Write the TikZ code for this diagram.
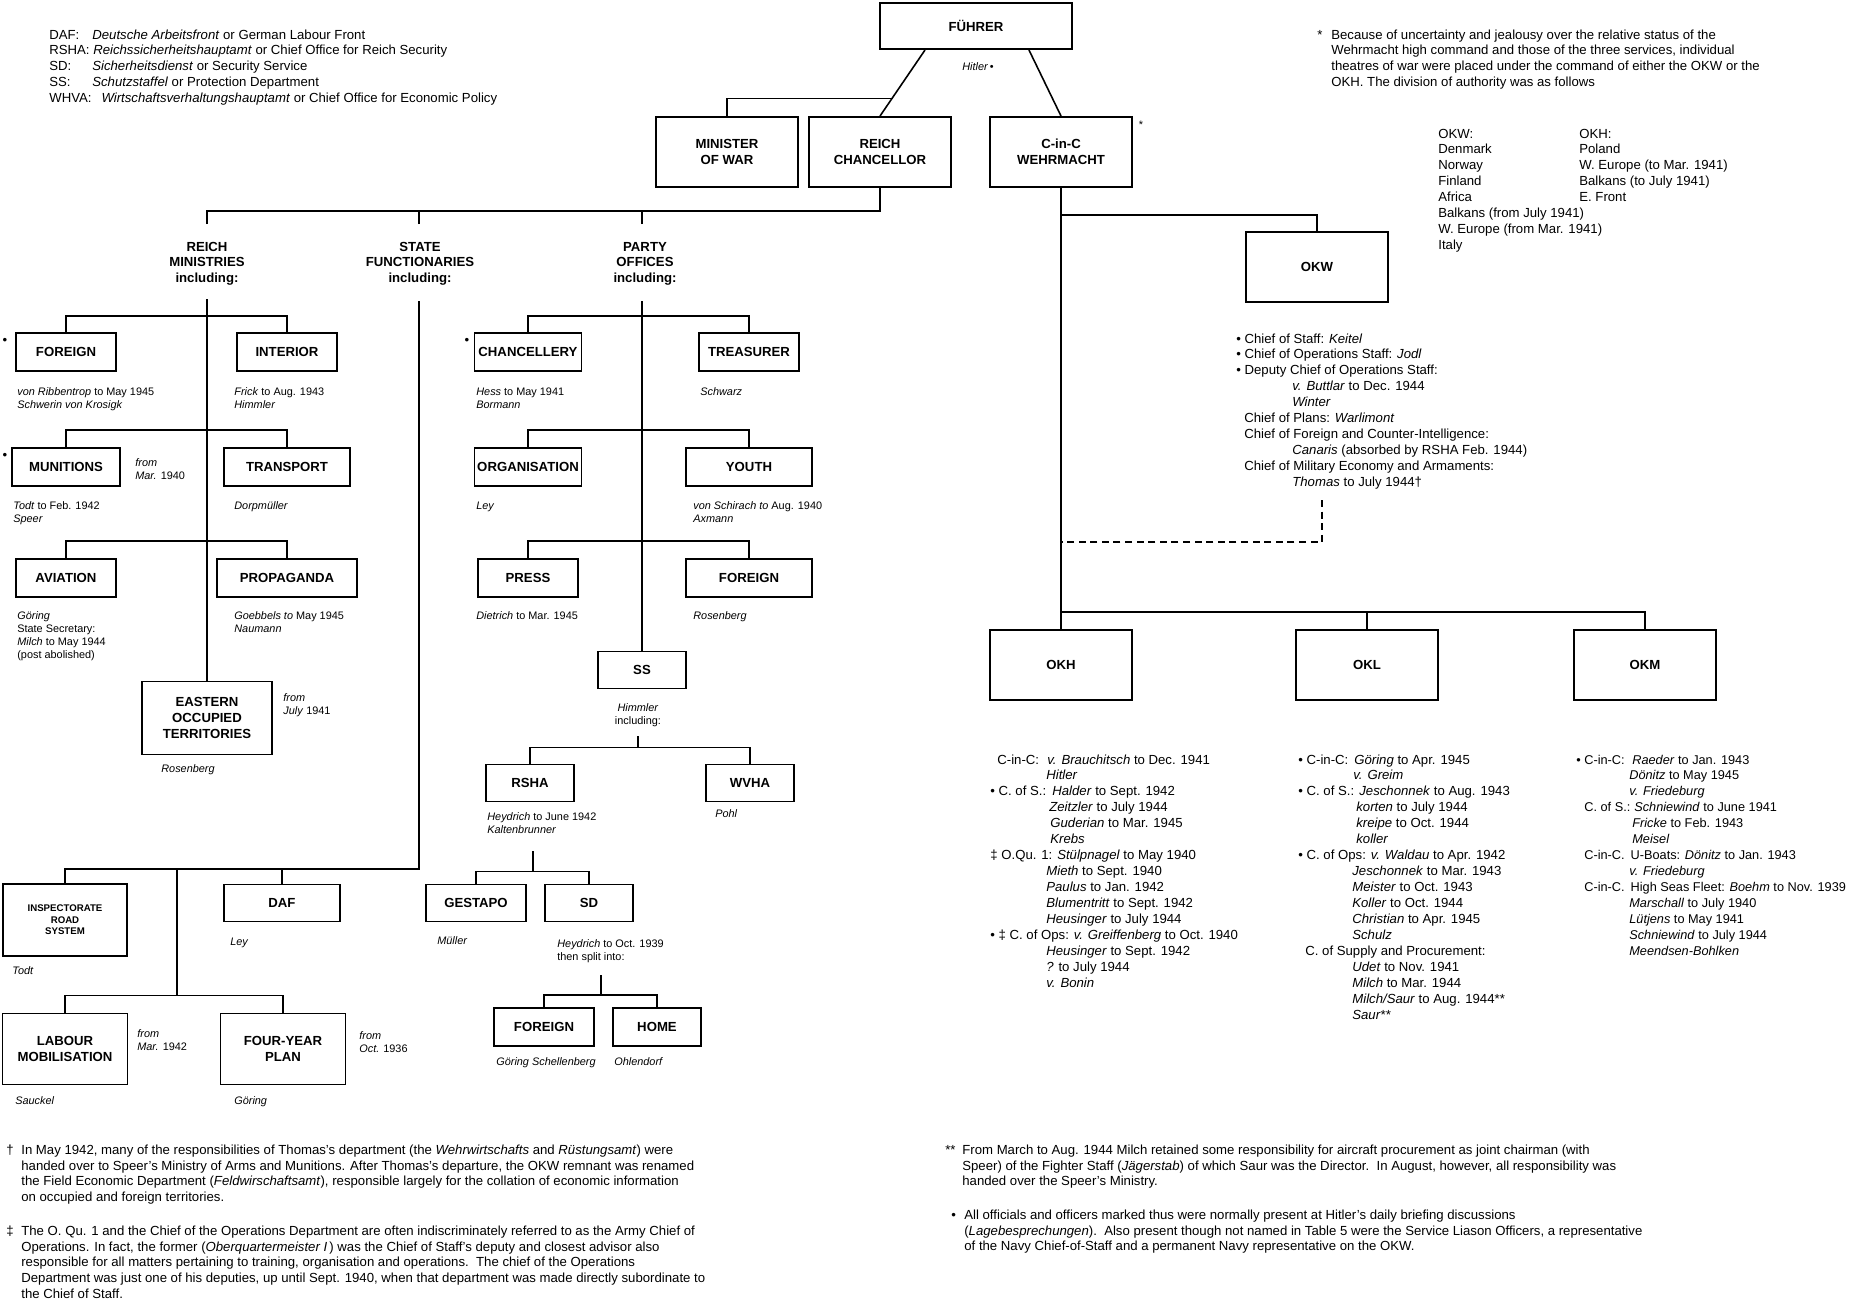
\documentclass[tikz,border=0pt]{standalone}
\usepackage{fontspec}
\setmainfont{Liberation Sans}
\usetikzlibrary{calc}
\newcommand\boxfont{\fontsize{7.5}{9.1}\selectfont\bfseries}
\newcommand\smallboxfont{\fontsize{5.5}{6.6}\selectfont\bfseries}
\newcommand\infofont{\fontsize{7.5}{9.1}\selectfont}
\newcommand\navyfont{\fontsize{7.25}{9.1}\selectfont}
\newcommand\notefont{\fontsize{6.2}{7.4}\selectfont}
\newcommand\leftlines[1]{\begin{tabular}[t]{@{}l@{}}#1\end{tabular}}
\newcommand\midlines[1]{\begin{tabular}[t]{@{}c@{}}#1\end{tabular}}

\begin{document}
\begin{tikzpicture}[
    x=0.02cm, y=-0.02cm,
    box/.style={draw, line width=1.1pt, inner sep=0pt, align=center, font=\boxfont},
    head/.style={anchor=base, inner sep=0pt, font=\boxfont},
    info/.style={anchor=base west, inner sep=0pt, font=\infofont},
    note/.style={anchor=base west, inner sep=0pt, font=\notefont},
    link/.style={line width=0.9pt}
]
    \path[use as bounding box, fill=white] (0,0) rectangle (1853,1302);

    % --- Top: Fuehrer and the three offices below ---
    \node[box, minimum width=3.84cm, minimum height=0.92cm] (fuhrer) at (976,26) {FÜHRER};
    \node[note, anchor=center] (hitnote) at (978,67) {\textit{Hitler}\,\textbullet};
    \node[box, minimum width=2.84cm, minimum height=1.4cm] (minwar) at (727,152) {MINISTER\\OF WAR};
    \node[box, minimum width=2.84cm, minimum height=1.4cm] (reichch) at (880,152) {REICH\\CHANCELLOR};
    \node[box, minimum width=2.84cm, minimum height=1.4cm] (cinc) at (1061,152) {C-in-C\\WEHRMACHT};
    \node[note, anchor=center] (cincstar) at (1141,125) {*};

    \coordinate (fl) at ([xshift=0.92cm]fuhrer.south west);
    \coordinate (fr) at ([xshift=-0.88cm]fuhrer.south east);
    \coordinate (mj) at ($(fl)!0.735!(reichch.north)$);
    \draw[link] (fl) -- (reichch.north);
    \draw[link] (fr) -- (cinc.north);
    \draw[link] (minwar.north) |- (mj);

    % --- Legend and note on theatres of war ---
    \node[info] (legend) at (49,39) {\leftlines{\makebox[0.86cm][l]{DAF:}\textit{Deutsche Arbeitsfront} or German Labour Front\\
        RSHA: \textit{Reichssicherheitshauptamt} or Chief Office for Reich Security\\
        \makebox[0.86cm][l]{SD:}\textit{Sicherheitsdienst} or Security Service\\
        \makebox[0.86cm][l]{SS:}\textit{Schutzstaffel} or Protection Department\\
        WHVA:\hspace{0.2cm}\textit{Wirtschaftsverhaltungshauptamt} or Chief Office for Economic Policy}};
    \node[info] (starmark) at (1317,39) {*};
    \node[info] (starnote) at (1331,39) {\leftlines{Because of uncertainty and jealousy over the relative status of the\\
        Wehrmacht high command and those of the three services, individual\\
        theatres of war were placed under the command of either the OKW or the\\
        OKH. The division of authority was as follows}};
    \node[info] (okwlist) at (1438,138) {\leftlines{OKW:\\Denmark\\Norway\\Finland\\Africa\\Balkans (from July 1941)\\W. Europe (from Mar. 1941)\\Italy}};
    \node[info] (okhlist) at (1579,138) {\leftlines{OKH:\\Poland\\W. Europe (to Mar. 1941)\\Balkans (to July 1941)\\E. Front}};

    % --- Second level: the three groups under the Reich Chancellor ---
    \node[head] (rmhead) at (207,251) {\midlines{REICH\\MINISTRIES\\including:}};
    \node[head] (sfhead) at (420,251) {\midlines{STATE\\FUNCTIONARIES\\including:}};
    \node[head] (pohead) at (645,251) {\midlines{PARTY\\OFFICES\\including:}};
    \coordinate (rmt) at (207,224);
    \coordinate (sft) at (419,224);
    \coordinate (pot) at (642,224);
    \coordinate (rmstem) at (207,299);
    \coordinate (sfstem) at (419,301);
    \coordinate (postem) at (642,301);
    \draw[link] (rmt) -- ++(0,-13) -| (reichch.south);
    \draw[link] (sft) -- ++(0,-13);
    \draw[link] (pot) -- ++(0,-13);

    % --- Reich ministries ---
    \node[info, anchor=center] (forbul) at (5,341) {\textbullet};
    \node[box, minimum width=2cm, minimum height=0.76cm] (foreign) at (66,352) {FOREIGN};
    \node[box, minimum width=2cm, minimum height=0.76cm] (interior) at (287,352) {INTERIOR};
    \node[note] (rbnote) at (17,395) {\leftlines{\textit{von Ribbentrop} to May 1945\\\textit{Schwerin von Krosigk}}};
    \node[note] (frnote) at (234,395) {\leftlines{\textit{Frick} to Aug. 1943\\\textit{Himmler}}};
    \node[info, anchor=center] (munbul) at (5,456) {\textbullet};
    \node[box, minimum width=2.16cm, minimum height=0.76cm] (munitions) at (66,467) {MUNITIONS};
    \node[box, minimum width=2.52cm, minimum height=0.76cm] (transport) at (287,467) {TRANSPORT};
    \node[note] (munfrom) at (135,466) {\leftlines{\textit{from}\\\textit{Mar.} 1940}};
    \node[note] (todtnote) at (13,509) {\leftlines{\textit{Todt} to Feb. 1942\\\textit{Speer}}};
    \node[note] (dorpnote) at (234,509) {\textit{Dorpmüller}};
    \node[box, minimum width=2cm, minimum height=0.76cm] (aviation) at (66,578) {AVIATION};
    \node[box, minimum width=2.8cm, minimum height=0.76cm] (propaganda) at (287,578) {PROPAGANDA};
    \node[note] (goenote) at (17,619) {\leftlines{\textit{Göring}\\State Secretary:\\\textit{Milch} to May 1944\\(post abolished)}};
    \node[note] (goebnote) at (234,619) {\leftlines{\textit{Goebbels to} May 1945\\\textit{Naumann}}};
    \node[box, minimum width=2.6cm, minimum height=1.46cm] (eastern) at (207,718) {EASTERN\\OCCUPIED\\TERRITORIES};
    \node[note] (eastfrom) at (283,701) {\leftlines{\textit{from}\\\textit{July} 1941}};
    \node[note] (rosnote) at (161,772) {\textit{Rosenberg}};

    \draw[link] (rmstem) -- (eastern.north);
    \draw[link] (foreign.north) -- ++(0,-16) -| (interior.north);
    \draw[link] (munitions.north) -- ++(0,-17) -| (transport.north);
    \draw[link] (aviation.north) -- ++(0,-17) -| (propaganda.north);

    % --- State functionaries ---
    \node[box, font=\smallboxfont, minimum width=2.48cm, minimum height=1.44cm] (insp) at (65,920) {INSPECTORATE\\ROAD\\SYSTEM};
    \node[box, minimum width=2.32cm, minimum height=0.74cm] (daf) at (282,903) {DAF};
    \node[note] (todt2note) at (12,974) {\textit{Todt}};
    \node[note] (leynote) at (230,945) {\textit{Ley}};
    \node[box, minimum width=2.5cm, minimum height=1.42cm] (labour) at (65,1049) {LABOUR\\MOBILISATION};
    \node[box, minimum width=2.5cm, minimum height=1.42cm] (fouryear) at (283,1049) {FOUR-YEAR\\PLAN};
    \node[note] (labfrom) at (137,1037) {\leftlines{\textit{from}\\\textit{Mar.} 1942}};
    \node[note] (fyfrom) at (359,1039) {\leftlines{\textit{from}\\\textit{Oct.} 1936}};
    \node[note] (saunote) at (15,1104) {\textit{Sauckel}};
    \node[note] (goe2note) at (234,1104) {\textit{Göring}};
    \coordinate (sfj) at (177,869);

    \draw[link] (sfstem) -- ++(0,568) -| (insp.north);
    \draw[link] (daf.north) -- ++(0,-15);
    \draw[link] (sfj) -- ++(0,127);
    \draw[link] (labour.north) -- ++(0,-17) -| (fouryear.north);

    % --- Party offices ---
    \node[info, anchor=center] (chabul) at (467,341) {\textbullet};
    \node[box, minimum width=2.14cm, minimum height=0.76cm] (chanc) at (528,352) {CHANCELLERY};
    \node[box, minimum width=2cm, minimum height=0.76cm] (treas) at (749,352) {TREASURER};
    \node[note] (hessnote) at (476,395) {\leftlines{\textit{Hess} to May 1941\\\textit{Bormann}}};
    \node[note] (schwnote) at (700,395) {\textit{Schwarz}};
    \node[box, minimum width=2.14cm, minimum height=0.76cm] (org) at (528,467) {ORGANISATION};
    \node[box, minimum width=2.52cm, minimum height=0.76cm] (youth) at (749,467) {YOUTH};
    \node[note] (ley2note) at (476,509) {\textit{Ley}};
    \node[note] (schinote) at (693,509) {\leftlines{\textit{von Schirach to} Aug. 1940\\\textit{Axmann}}};
    \node[box, minimum width=2cm, minimum height=0.76cm] (press) at (528,578) {PRESS};
    \node[box, minimum width=2.52cm, minimum height=0.76cm] (pforeign) at (749,578) {FOREIGN};
    \node[note] (dietnote) at (476,619) {\textit{Dietrich} to Mar. 1945};
    \node[note] (ros2note) at (693,619) {\textit{Rosenberg}};

    \draw[link] (chanc.north) -- ++(0,-16) -| (treas.north);
    \draw[link] (org.north) -- ++(0,-17) -| (youth.north);
    \draw[link] (press.north) -- ++(0,-17) -| (pforeign.north);

    % --- SS and its offices ---
    \node[box, minimum width=1.76cm, minimum height=0.74cm] (ss) at (642,670) {SS};
    \node[note, anchor=base] (himnote) at (638,711) {\midlines{\textit{Himmler}\\including:}};
    \node[box, minimum width=1.76cm, minimum height=0.74cm] (rsha) at (530,783) {RSHA};
    \node[box, minimum width=1.76cm, minimum height=0.74cm] (wvha) at (750,783) {WVHA};
    \node[note] (heydnote) at (487,820) {\leftlines{\textit{Heydrich} to June 1942\\\textit{Kaltenbrunner}}};
    \node[note] (pohlnote) at (715,817) {\textit{Pohl}};
    \node[box, minimum width=2cm, minimum height=0.74cm] (gestapo) at (476,903) {GESTAPO};
    \node[box, minimum width=1.76cm, minimum height=0.74cm] (sd) at (589,903) {SD};
    \node[note] (mullnote) at (437,944) {\textit{Müller}};
    \node[note] (heyd2note) at (557,947) {\leftlines{\textit{Heydrich} to Oct. 1939\\then split into:}};
    \node[box, minimum width=2cm, minimum height=0.76cm] (sforeign) at (544,1027) {FOREIGN};
    \node[box, minimum width=1.76cm, minimum height=0.76cm] (home) at (657,1027) {HOME};
    \node[note] (schelnote) at (496,1065) {\textit{Göring Schellenberg}};
    \node[note] (ohlnote) at (614,1065) {\textit{Ohlendorf}};
    \coordinate (ssj) at (638,736);
    \coordinate (rsj) at (533,851);
    \coordinate (sdj) at (601,975);

    \draw[link] (postem) -- (ss.north);
    \draw[link] (ssj) -- ++(0,12);
    \draw[link] (rsha.north) -- ++(0,-16) -| (wvha.north);
    \draw[link] (rsj) -- ++(0,21);
    \draw[link] (gestapo.north) -- ++(0,-12) -| (sd.north);
    \draw[link] (sdj) -- ++(0,21);
    \draw[link] (sforeign.north) -- ++(0,-12) -| (home.north);

    % --- Wehrmacht: OKW, OKH, OKL, OKM ---
    \node[box, minimum width=2.84cm, minimum height=1.4cm] (okw) at (1317,267) {OKW};
    \node[box, minimum width=2.84cm, minimum height=1.4cm] (okh) at (1061,665) {OKH};
    \node[box, minimum width=2.84cm, minimum height=1.4cm] (okl) at (1367,665) {OKL};
    \node[box, minimum width=2.84cm, minimum height=1.4cm] (okm) at (1645,665) {OKM};
    \coordinate (dtop) at (1322,500);
    \coordinate (dbend) at (1322,542);

    \draw[link] (cinc.south) -- (okh.north);
    \draw[link] (okw.north) -- ++(0,-16) -| (cinc.south);
    \draw[link] (okh.north) -- ++(0,-17) -| (okm.north);
    \draw[link] (okl.north) -- ++(0,-17);
    \draw[link, dash pattern=on 4pt off 2.6pt] (dtop) -- (dbend) -- (dbend -| cinc.south);

    \node[info] (staff) at (1236,343) {\leftlines{\textbullet\ Chief of Staff: \textit{Keitel}\\
        \textbullet\ Chief of Operations Staff: \textit{Jodl}\\
        \textbullet\ Deputy Chief of Operations Staff:\\
        \hspace*{1.12cm}\textit{v. Buttlar} to Dec. 1944\\
        \hspace*{1.12cm}\textit{Winter}\\
        \hspace*{0.16cm}Chief of Plans: \textit{Warlimont}\\
        \hspace*{0.16cm}Chief of Foreign and Counter-Intelligence:\\
        \hspace*{1.12cm}\textit{Canaris} (absorbed by RSHA Feb. 1944)\\
        \hspace*{0.16cm}Chief of Military Economy and Armaments:\\
        \hspace*{1.12cm}\textit{Thomas} to July 1944†}};

    \node[info] (okhstaff) at (990,764) {\leftlines{\makebox[1.14cm][l]{\hspace*{0.14cm}C-in-C:}\textit{v. Brauchitsch} to Dec. 1941\\
        \hspace*{1.12cm}\textit{Hitler}\\
        \makebox[1.24cm][l]{\textbullet\ C. of S.:}\textit{Halder} to Sept. 1942\\
        \hspace*{1.18cm}\textit{Zeitzler} to July 1944\\
        \hspace*{1.2cm}\textit{Guderian} to Mar. 1945\\
        \hspace*{1.2cm}\textit{Krebs}\\
        ‡ O.Qu. 1: \textit{Stülpnagel} to May 1940\\
        \hspace*{1.12cm}\textit{Mieth} to Sept. 1940\\
        \hspace*{1.12cm}\textit{Paulus} to Jan. 1942\\
        \hspace*{1.12cm}\textit{Blumentritt} to Sept. 1942\\
        \hspace*{1.12cm}\textit{Heusinger} to July 1944\\
        \textbullet\ ‡ C. of Ops: \textit{v. Greiffenberg} to Oct. 1940\\
        \hspace*{1.12cm}\textit{Heusinger} to Sept. 1942\\
        \hspace*{1.12cm}\textit{?} to July 1944\\
        \hspace*{1.12cm}\textit{v. Bonin}}};

    \node[info] (oklstaff) at (1298,764) {\leftlines{\makebox[1.12cm][l]{\textbullet\ C-in-C:}\textit{Göring} to Apr. 1945\\
        \hspace*{1.1cm}\textit{v. Greim}\\
        \makebox[1.22cm][l]{\textbullet\ C. of S.:}\textit{Jeschonnek} to Aug. 1943\\
        \hspace*{1.16cm}\textit{korten} to July 1944\\
        \hspace*{1.16cm}\textit{kreipe} to Oct. 1944\\
        \hspace*{1.16cm}\textit{koller}\\
        \textbullet\ C. of Ops: \textit{v. Waldau} to Apr. 1942\\
        \hspace*{1.08cm}\textit{Jeschonnek} to Mar. 1943\\
        \hspace*{1.08cm}\textit{Meister} to Oct. 1943\\
        \hspace*{1.08cm}\textit{Koller} to Oct. 1944\\
        \hspace*{1.08cm}\textit{Christian} to Apr. 1945\\
        \hspace*{1.08cm}\textit{Schulz}\\
        \hspace*{0.14cm}C. of Supply and Procurement:\\
        \hspace*{1.08cm}\textit{Udet} to Nov. 1941\\
        \hspace*{1.08cm}\textit{Milch} to Mar. 1944\\
        \hspace*{1.08cm}\textit{Milch/Saur} to Aug. 1944**\\
        \hspace*{1.08cm}\textit{Saur**}}};

    \node[info, font=\navyfont] (okmstaff) at (1576,764) {\leftlines{\makebox[1.12cm][l]{\textbullet\ C-in-C:}\textit{Raeder} to Jan. 1943\\
        \hspace*{1.06cm}\textit{Dönitz} to May 1945\\
        \hspace*{1.06cm}\textit{v. Friedeburg}\\
        \makebox[1.16cm][l]{\hspace*{0.16cm}C. of S.:}\textit{Schniewind} to June 1941\\
        \hspace*{1.12cm}\textit{Fricke} to Feb. 1943\\
        \hspace*{1.12cm}\textit{Meisel}\\
        \hspace*{0.16cm}C-in-C.\hspace{0.12cm}U-Boats: \textit{Dönitz} to Jan. 1943\\
        \hspace*{1.06cm}\textit{v. Friedeburg}\\
        \hspace*{0.16cm}C-in-C.\hspace{0.12cm}High Seas Fleet: \textit{Boehm} to Nov. 1939\\
        \hspace*{1.06cm}\textit{Marschall} to July 1940\\
        \hspace*{1.06cm}\textit{Lütjens} to May 1941\\
        \hspace*{1.06cm}\textit{Schniewind} to July 1944\\
        \hspace*{1.06cm}\textit{Meendsen-Bohlken}}};

    % --- Footnotes ---
    \node[info] (daggermark) at (6,1154) {†};
    \node[info] (daggernote) at (21,1154) {\leftlines{In May 1942, many of the responsibilities of Thomas's department (the \textit{Wehrwirtschafts} and \textit{Rüstungsamt}) were\\
        handed over to Speer's Ministry of Arms and Munitions. After Thomas's departure, the OKW remnant was renamed\\
        the Field Economic Department (\textit{Feldwirschaftsamt}), responsible largely for the collation of economic information\\
        on occupied and foreign territories.}};
    \node[info] (ddaggermark) at (6,1235) {‡};
    \node[info] (ddaggernote) at (21,1235) {\leftlines{The O. Qu. 1 and the Chief of the Operations Department are often indiscriminately referred to as the Army Chief of\\
        Operations. In fact, the former (\textit{Oberquartermeister I}\,) was the Chief of Staff's deputy and closest advisor also\\
        responsible for all matters pertaining to training, organisation and operations.\ \ The chief of the Operations\\
        Department was just one of his deputies, up until Sept. 1940, when that department was made directly subordinate to\\
        the Chief of Staff.}};
    \node[info] (dstarmark) at (945,1154) {**};
    \node[info] (dstarnote) at (962,1154) {\leftlines{From March to Aug. 1944 Milch retained some responsibility for aircraft procurement as joint chairman (with\\
        Speer) of the Fighter Staff (\textit{Jägerstab}) of which Saur was the Director.\ \ In August, however, all responsibility was\\
        handed over the Speer's Ministry.}};
    \node[info] (bulletmark) at (951,1219) {\textbullet};
    \node[info] (bulletnote) at (964,1219) {\leftlines{All officials and officers marked thus were normally present at Hitler's daily briefing discussions\\
        (\textit{Lagebesprechungen}).\ \ Also present though not named in Table 5 were the Service Liason Officers, a representative\\
        of the Navy Chief-of-Staff and a permanent Navy representative on the OKW.}};
\end{tikzpicture}
\end{document}
